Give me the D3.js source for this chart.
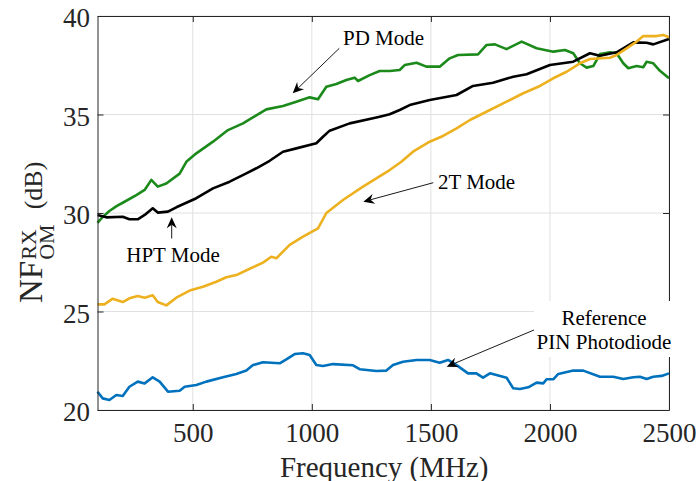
<!DOCTYPE html>
<html><head><meta charset="utf-8">
<script src="https://cdn.jsdelivr.net/npm/d3@7"></script>
<style>
html,body{margin:0;padding:0;background:#fff;}
svg{display:block;font-family:"Liberation Serif","Times New Roman",serif;}
</style></head>
<body>
<svg id="chart" width="696" height="481"></svg>
<script>
// ---------- data ----------
const xTicks = [500, 1000, 1500, 2000, 2500];
const yTicks = [20, 25, 30, 35, 40];

const pdFreq = [100,122,150,180,206,263,298,326,353,389,445,473,515,585,648,711,809,879,935,991,1026,1061,1103,1145,1180,1194,1243,1285,1327,1369,1390,1440,1481,1537,1579,1614,1698,1734,1769,1818,1881,1944,2014,2063,2098,2126,2154,2182,2210,2252,2280,2308,2329,2364,2392,2406,2434,2462,2500];
const pdNF   = [29.5,29.8,30.1,30.35,30.52,30.91,31.17,31.68,31.34,31.5,32.0,32.6,33.03,33.62,34.21,34.55,35.26,35.43,35.65,35.87,35.77,36.41,36.55,36.75,36.87,36.70,37.0,37.21,37.21,37.26,37.51,37.63,37.43,37.43,37.85,38.02,38.05,38.53,38.56,38.32,38.70,38.36,38.19,38.27,38.11,37.6,37.38,37.46,38.07,38.16,38.11,37.6,37.35,37.46,37.40,37.68,37.6,37.22,36.84];

const hptFreq = [100,137,206,234,269,298,332,353,396,431,473,515,585,655,725,767,823,879,935,1019,1047,1075,1159,1257,1285,1327,1369,1411,1495,1608,1677,1761,1846,1902,2000,2098,2168,2210,2280,2350,2406,2434,2500];
const hptNF   = [29.9,29.78,29.81,29.68,29.68,29.9,30.24,30.02,30.07,30.29,30.52,30.75,31.25,31.59,32.01,32.27,32.65,33.11,33.28,33.54,33.87,34.18,34.55,34.81,34.89,35.01,35.23,35.48,35.74,35.99,36.45,36.61,36.92,37.04,37.51,37.68,38.11,37.98,38.16,38.66,38.64,38.56,38.83];

const t2Freq = [100,129,164,206,234,269,298,332,353,389,431,487,543,599,641,683,739,795,830,851,907,963,1026,1061,1131,1215,1271,1327,1376,1425,1495,1551,1608,1664,1748,1818,1888,1958,2014,2070,2126,2168,2252,2280,2322,2364,2392,2448,2476,2500];
const t2NF   = [25.36,25.36,25.65,25.48,25.67,25.79,25.70,25.82,25.48,25.31,25.70,26.06,26.26,26.51,26.74,26.85,27.17,27.48,27.78,27.70,28.38,28.80,29.22,30.0,30.66,31.34,31.76,32.18,32.6,33.11,33.62,33.91,34.3,34.72,35.23,35.65,36.08,36.45,36.84,37.17,37.6,37.82,37.88,38.02,38.36,38.70,38.98,38.98,39.04,38.92];

const refFreq = [100,122,150,179,206,234,269,298,332,361,396,445,466,515,557,627,683,725,753,795,865,893,928,963,991,1019,1047,1089,1173,1201,1271,1313,1341,1383,1440,1495,1537,1572,1608,1656,1691,1719,1748,1818,1846,1874,1909,1944,1972,1986,2014,2035,2098,2140,2210,2266,2308,2350,2378,2406,2434,2469,2500];
const refNF   = [20.93,20.59,20.51,20.76,20.71,21.18,21.44,21.35,21.66,21.44,20.93,20.98,21.18,21.27,21.44,21.66,21.83,22.0,22.28,22.42,22.37,22.57,22.84,22.88,22.79,22.28,22.23,22.33,22.27,22.07,21.98,22.0,22.28,22.45,22.54,22.54,22.40,22.54,22.28,21.86,21.86,21.64,21.86,21.64,21.10,21.07,21.15,21.39,21.35,21.56,21.56,21.83,22.0,22.0,21.69,21.69,21.57,21.66,21.69,21.57,21.69,21.73,21.86];

const xLabel = "Frequency (MHz)";

// ---------- layout ----------
const svg = d3.select("#chart");
const L = 97.5, R = 669, T = 16, B = 410;
const x = d3.scaleLinear().domain([100, 2500]).range([L, R]);
const y = d3.scaleLinear().domain([20, 40]).range([B, T]);
const axisColor = "#262626";
const fmt = d3.format("d");

// grid
const grid = svg.append("g");
grid.selectAll(".gx").data(xTicks).join("line")
  .attr("x1", d => x(d)).attr("x2", d => x(d)).attr("y1", T).attr("y2", B)
  .attr("stroke", "#e0e0e0").attr("stroke-width", 1);
grid.selectAll(".gy").data(yTicks).join("line")
  .attr("x1", L).attr("x2", R).attr("y1", d => y(d)).attr("y2", d => y(d))
  .attr("stroke", "#e0e0e0").attr("stroke-width", 1);

// series
const series = [
  {f: refFreq, v: refNF, c: "#0072BD"},
  {f: pdFreq, v: pdNF, c: "#1B8A1B"},
  {f: hptFreq, v: hptNF, c: "#000000"},
  {f: t2Freq, v: t2NF, c: "#EDB120"}
];
const line = d3.line().x(d => x(d[0])).y(d => y(d[1]));
series.forEach(s => {
  svg.append("path")
    .datum(s.f.map((f, i) => [f, s.v[i]]))
    .attr("d", line)
    .attr("fill", "none")
    .attr("stroke", s.c)
    .attr("stroke-width", 2.6)
    .attr("stroke-linejoin", "round");
});

// axes
function styleAxis(g) {
  g.selectAll("path.domain").attr("stroke", axisColor).attr("stroke-width", 1);
  g.selectAll(".tick line").attr("stroke", axisColor);
  g.selectAll(".tick text").attr("fill", axisColor)
    .style("font-family", '"Liberation Serif","Times New Roman",serif').style("font-size", "27px");
}
svg.append("g").attr("transform", `translate(0,${B})`)
  .call(d3.axisBottom(x).tickValues(xTicks).tickFormat(fmt).tickSize(-6).tickSizeOuter(0).tickPadding(13))
  .call(styleAxis);
svg.append("g").attr("transform", `translate(0,${T})`)
  .call(d3.axisTop(x).tickValues(xTicks).tickSize(-6).tickSizeOuter(0).tickFormat(""))
  .call(styleAxis);
const yAx = svg.append("g").attr("transform", `translate(${L},0)`)
  .call(d3.axisLeft(y).tickValues(yTicks).tickFormat(fmt).tickSize(-6).tickSizeOuter(0).tickPadding(7.5))
  .call(styleAxis);
yAx.selectAll(".tick text").attr("dy", "0.4em");
svg.append("g").attr("transform", `translate(${R},0)`)
  .call(d3.axisRight(y).tickValues(yTicks).tickSize(-6).tickSizeOuter(0).tickFormat(""))
  .call(styleAxis);

// x label
svg.append("text").attr("x", (L + R) / 2 + 1).attr("y", 476.5)
  .attr("text-anchor", "middle").attr("font-size", 29).attr("fill", axisColor)
  .text(xLabel);

// y label: NF^{RX}_{OM} (dB)
const yl = svg.append("g").attr("fill", axisColor);
const baseX = 42, startY = 303;
const tNF = yl.append("text").attr("font-size", 33).text("NF")
  .attr("transform", `translate(${baseX},${startY}) rotate(-90)`);
const wNF = tNF.node().getComputedTextLength();
const tRX = yl.append("text").attr("font-size", 22).text("RX")
  .attr("transform", `translate(${baseX - 6},${startY - wNF - 1}) rotate(-90)`);
const tOM = yl.append("text").attr("font-size", 22).text("OM")
  .attr("transform", `translate(${baseX + 11.5},${startY - wNF - 1}) rotate(-90)`);
const wSub = Math.max(tRX.node().getComputedTextLength(), tOM.node().getComputedTextLength());
yl.append("text").attr("font-size", 26).text("(dB)")
  .attr("transform", `translate(${baseX},${startY - wNF - 1 - wSub - 15}) rotate(-90)`);

// annotations
function arrow(x1, y1, x2, y2) {
  const ang = Math.atan2(y2 - y1, x2 - x1);
  const len = 11, half = 5, notch = 7.5;
  const ux = Math.cos(ang), uy = Math.sin(ang), px = -uy, py = ux;
  const bx = x2 - ux * len, by = y2 - uy * len;
  const nx = x2 - ux * notch, ny = y2 - uy * notch;
  svg.append("line").attr("x1", x1).attr("y1", y1).attr("x2", nx).attr("y2", ny)
    .attr("stroke", "#000").attr("stroke-width", 0.9);
  svg.append("path")
    .attr("d", `M${x2},${y2}L${bx + px * half},${by + py * half}L${nx},${ny}L${bx - px * half},${by - py * half}Z`)
    .attr("fill", "#000");
}
arrow(339.3, 48.3, 292.7, 93.3);
arrow(433.3, 182.7, 363.3, 201.7);
arrow(171.7, 238.5, 171.7, 217.3);
arrow(534, 330, 446.7, 366.7);

const ann = svg.append("g").attr("font-size", 21).attr("fill", "#000");
ann.append("text").attr("x", 343).attr("y", 45).text("PD Mode");
ann.append("text").attr("x", 438).attr("y", 188.5).text("2T Mode");
ann.append("text").attr("x", 173).attr("y", 262).attr("text-anchor", "middle").text("HPT Mode");

svg.append("rect").attr("x", 534).attr("y", 301).attr("width", 142).attr("height", 56).attr("fill", "#fff");
ann.raise();
ann.append("text").attr("x", 604).attr("y", 325).attr("text-anchor", "middle").text("Reference");
ann.append("text").attr("x", 604).attr("y", 349).attr("text-anchor", "middle").text("PIN Photodiode");
</script>
</body></html>
